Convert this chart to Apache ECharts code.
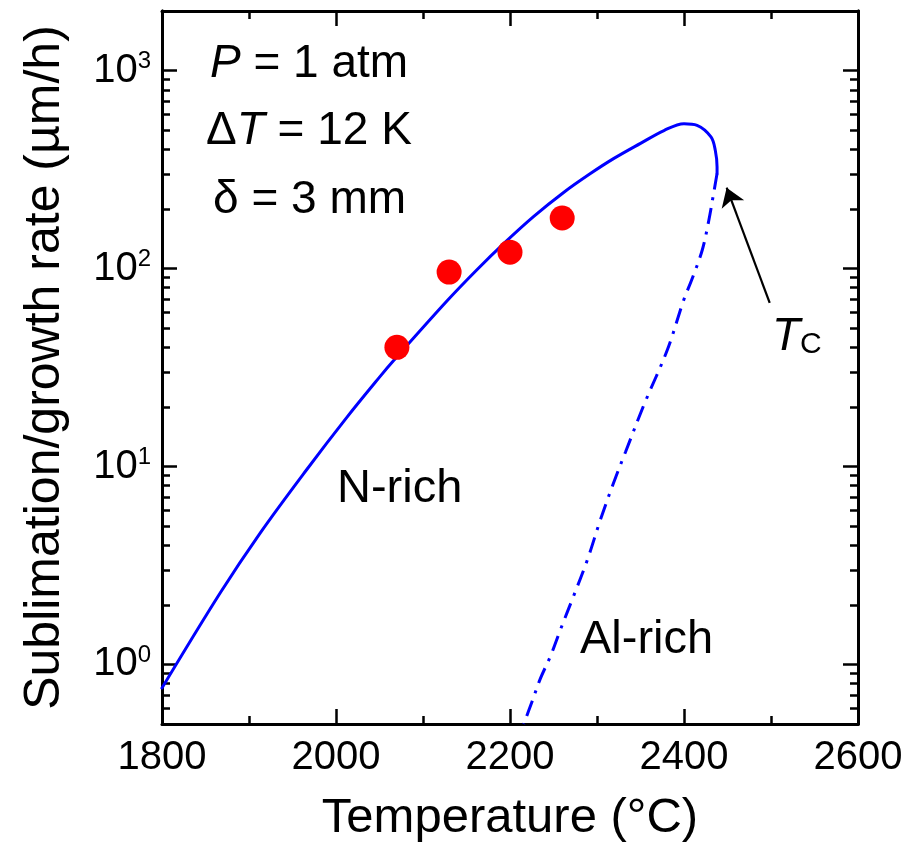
<!DOCTYPE html>
<html><head><meta charset="utf-8">
<script src="https://cdn.jsdelivr.net/npm/echarts@6/dist/echarts.min.js"></script>
<style>html,body{margin:0;padding:0;background:#fff}#c{width:909px;height:859px}</style>
</head><body><div id="c"></div>
<script>
// ---- data ----
const nRichTemp = [1800, 1867, 1913, 1966, 2012, 2051, 2066, 2128, 2162, 2193, 2227, 2262, 2292, 2319, 2350, 2377, 2400, 2415, 2431, 2436, 2438, 2438];
const nRichRate = [0.76, 2.30, 4.62, 9.6, 17.6, 28.6, 34.2, 68.9, 98.6, 134, 183, 243, 301, 359, 429, 498, 539, 529, 462, 395, 326, 302];
const alRichTemp = [2438, 2434, 2428.5, 2421, 2409, 2400, 2381, 2354, 2333, 2319, 2304, 2289, 2273, 2258, 2246.5, 2235, 2225.4, 2215.8];
const alRichRate = [302, 239, 175, 124, 88, 70, 39, 20.5, 11.9, 8.25, 5.39, 3.38, 2.21, 1.50, 1.10, 0.85, 0.65, 0.50];
const expTemp = [2070, 2130, 2200, 2260];
const expRate = [40, 96, 121, 180];
const arrowFrom = [2498.5, 67.1];
const arrowTo = [2449, 256];
const decadeTicks = [1, 10, 100, 1000];
const minorRateTicks = [0.6,0.7,0.8,0.9,2,3,4,5,6,7,8,9,20,30,40,50,60,70,80,90,200,300,400,500,600,700,800,900];
const tempMin = 1800, tempMax = 2600, tempStep = 200;
const rateMin = 0.5, rateMax = 2000;

// ---- chart ----
const FF = '"Liberation Sans", Arial, sans-serif';
const chart = echarts.init(document.getElementById('c'), null, {renderer: 'canvas'});
const zip = (a, b) => a.map((v, i) => [v, b[i]]);
const lineW = 3, tickW = 2.5;

function xAx(pos, labels) {
  return {
    type: 'value', position: pos, min: tempMin, max: tempMax, interval: tempStep,
    axisLine: {show: true, onZero: false, lineStyle: {color: '#000', width: lineW}},
    axisTick: {show: true, inside: true, length: 15, lineStyle: {color: '#000', width: tickW}},
    minorTick: {show: true, splitNumber: 2, length: 8, lineStyle: {color: '#000', width: tickW}},
    splitLine: {show: false}, minorSplitLine: {show: false},
    axisLabel: labels ? {show: true, fontSize: 40, fontFamily: FF, color: '#000', margin: 14,
      showMinLabel: true, showMaxLabel: true, formatter: v => String(v)} : {show: false},
    name: labels ? 'Temperature (°C)' : '',
    nameLocation: 'middle', nameGap: 70,
    nameTextStyle: {fontSize: 49, fontFamily: FF, color: '#000'}
  };
}
function yAx(pos, values, len, labels) {
  const ax = {
    type: 'log', logBase: 10, position: pos, min: rateMin, max: rateMax,
    axisLine: {show: true, onZero: false, lineStyle: {color: '#000', width: lineW}},
    axisTick: {show: true, inside: true, length: len, customValues: values, lineStyle: {color: '#000', width: tickW}},
    splitLine: {show: false},
    axisLabel: {show: false}
  };
  if (labels) {
    ax.axisLabel = {
      show: true, customValues: decadeTicks, margin: 11,
      formatter: v => '{b|10}{s|' + Math.round(Math.log10(v)) + '}',
      rich: {
        b: {fontSize: 40, fontFamily: FF, color: '#000', lineHeight: 40, padding: [14, 0, 0, 0], verticalAlign: 'bottom'},
        s: {fontSize: 24, fontFamily: FF, color: '#000', lineHeight: 24, padding: [0, 0, 17, 0], verticalAlign: 'bottom'}
      }
    };
    ax.name = 'Sublimation/growth rate (µm/h)';
    ax.nameLocation = 'middle';
    ax.nameGap = 92;
    ax.nameTextStyle = {fontSize: 50, fontFamily: FF, color: '#000'};
  }
  return ax;
}

const txt = (left, top, text, rich) => ({
  type: 'text', left, top, z: 100,
  style: {text, rich, fill: '#000', font: '46px ' + FF}
});
const R = {
  i: {fontSize: 46, fontFamily: FF, fontStyle: 'italic', color: '#000', lineHeight: 46},
  n: {fontSize: 46, fontFamily: FF, color: '#000', lineHeight: 46},
  m: {fontSize: 47, fontFamily: FF, color: '#000', lineHeight: 47},
  c: {fontSize: 30, fontFamily: FF, color: '#000', lineHeight: 30, verticalAlign: 'bottom'}
};

chart.setOption({
  animation: false,
  backgroundColor: '#fff',
  grid: {left: 162, right: 51, top: 11, bottom: 135, containLabel: false},
  xAxis: [xAx('bottom', true), xAx('top', false)],
  yAxis: [
    yAx('left', decadeTicks, 15, true),
    yAx('left', minorRateTicks, 8, false),
    yAx('right', decadeTicks, 15, false),
    yAx('right', minorRateTicks, 8, false)
  ],
  series: [
    {
      name: 'N-rich', type: 'line', xAxisIndex: 0, yAxisIndex: 0,
      data: zip(nRichTemp, nRichRate), showSymbol: false, symbol: 'none',
      smooth: 0.35,
      lineStyle: {color: '#0000ff', width: 3, cap: 'round', join: 'round'}, z: 3, silent: true
    },
    {
      name: 'Al-rich', type: 'line', xAxisIndex: 0, yAxisIndex: 0,
      data: zip(alRichTemp, alRichRate), showSymbol: false, symbol: 'none',
      smooth: 0.35,
      lineStyle: {color: '#0000ff', width: 3, type: [16, 8, 3, 8]}, z: 3, silent: true
    },
    {
      name: 'exp', type: 'scatter', xAxisIndex: 0, yAxisIndex: 0,
      data: zip(expTemp, expRate), symbol: 'circle', symbolSize: 25,
      itemStyle: {color: '#ff0000', opacity: 1}, z: 5, silent: true,
      markLine: {
        silent: true, animation: false,
        symbol: ['none', 'arrow'], symbolSize: 18,
        label: {show: false},
        lineStyle: {color: '#000', width: 2.2, type: 'solid', opacity: 1},
        emphasis: {disabled: true},
        data: [[{coord: arrowFrom}, {coord: arrowTo}]]
      }
    }
  ],
  graphic: [
    txt(210, 41, '{i|P}{n| = 1 atm}', R),
    txt(206, 108, '{n|Δ}{i|T}{n| = 12 K}', R),
    txt(213, 177, '{n|δ = 3 mm}', R),
    txt(337, 466, '{m|N-rich}', R),
    txt(580, 617, '{m|Al-rich}', R),
    txt(772, 314, '{i|T}{c|C}', R)
  ]
});
</script>
</body></html>
